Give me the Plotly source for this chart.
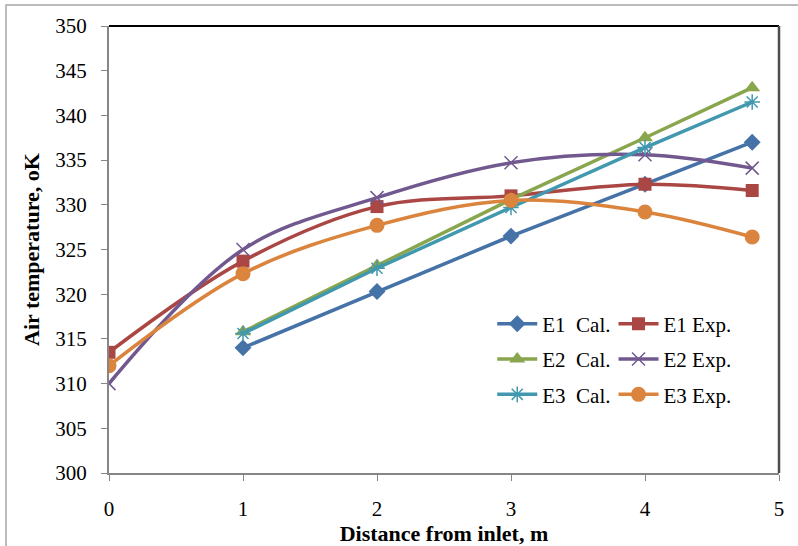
import plotly.graph_objects as go

x_cal = [1, 2, 3, 4, 4.8]
x_exp = [0, 1, 2, 3, 4, 4.8]

e1_cal = [314.0, 320.3, 326.5, 332.3, 337.0]
e1_exp = [313.5, 323.7, 329.8, 331.0, 332.3, 331.6]
e2_cal = [315.8, 323.2, 330.6, 337.5, 343.1]
e2_exp = [310.0, 325.0, 330.8, 334.7, 335.6, 334.1]
e3_cal = [315.6, 322.9, 329.7, 336.4, 341.5]
e3_exp = [312.0, 322.3, 327.7, 330.5, 329.2, 326.4]

FONT = "Liberation Serif"

fig = go.Figure()

def add(name, xs, ys, color, symbol, msize, spline, legend, group, mline=0):
    fig.add_trace(go.Scatter(
        x=xs, y=ys, name=name, mode="lines+markers",
        line=dict(color=color, width=3.5, shape="spline" if spline else "linear", smoothing=1.0),
        marker=dict(symbol=symbol, size=msize, color=color,
                    line=dict(color=color, width=mline)),
        legend=legend, legendgroup=group,
    ))

add("E1  Cal.", x_cal, e1_cal, "#4572A7", "diamond", 13, False, "legend", "a")
add("E1 Exp.", x_exp, e1_exp, "#AA4643", "square", 13, True, "legend2", "b")
add("E2  Cal.", x_cal, e2_cal, "#89A54E", "triangle-up", 14, False, "legend", "c")
add("E2 Exp.", x_exp, e2_exp, "#71588F", "x-thin-open", 13, True, "legend2", "d", 1.5)
add("E3  Cal.", x_cal, e3_cal, "#4198AF", "asterisk-open", 13, False, "legend", "e", 1.5)
add("E3 Exp.", x_exp, e3_exp, "#DB843D", "circle", 15, True, "legend2", "f")

legend_common = dict(
    orientation="v", yanchor="top", xanchor="left",
    font=dict(family=FONT, size=21, color="#000000"),
    bgcolor="rgba(0,0,0,0)", tracegroupgap=5, itemwidth=40,
)

fig.update_layout(
    width=798, height=546,
    margin=dict(l=109, r=19, t=26, b=73, autoexpand=False),
    paper_bgcolor="white", plot_bgcolor="white",
    font=dict(family=FONT, size=21, color="#000000"),
    showlegend=True,
    legend=dict(x=0.572, y=0.379, **legend_common),
    legend2=dict(x=0.753, y=0.379, **legend_common),
    xaxis=dict(
        range=[0, 5], dtick=1, tick0=0, showgrid=False, zeroline=False,
        showline=True, linecolor="#868686", linewidth=2, automargin=False,
        ticks="outside", ticklen=6, tickcolor="#868686", tickwidth=1,
        ticklabelstandoff=10,
        tickfont=dict(family=FONT, size=21),
        title=dict(text="<b>Distance from inlet, m</b>", standoff=5,
                   font=dict(family=FONT, size=22)),
    ),
    yaxis=dict(
        range=[300, 350], dtick=5, tick0=300, showgrid=False, zeroline=False,
        showline=True, linecolor="#868686", linewidth=2, automargin=False,
        ticks="outside", ticklen=6, tickcolor="#868686", tickwidth=1,
        ticklabelstandoff=10,
        tickfont=dict(family=FONT, size=21),
        title=dict(text="<b>Air temperature, oK</b>", standoff=10,
                   font=dict(family=FONT, size=22)),
    ),
    shapes=[
        dict(type="line", xref="paper", yref="paper", x0=0, x1=1, y0=1, y1=1,
             line=dict(color="#000000", width=2)),
        dict(type="line", xref="paper", yref="paper", x0=1, x1=1, y0=0, y1=1,
             line=dict(color="#4D4D4D", width=2.5)),
        dict(type="rect", xref="paper", yref="paper",
             x0=(6 - 109) / 670, x1=(820 - 109) / 670,
             y0=(473 - 560) / 447, y1=(473 - 5) / 447,
             line=dict(color="#A6A6A6", width=1.5), layer="below"),
    ],
)

fig.write_html("out.html")
